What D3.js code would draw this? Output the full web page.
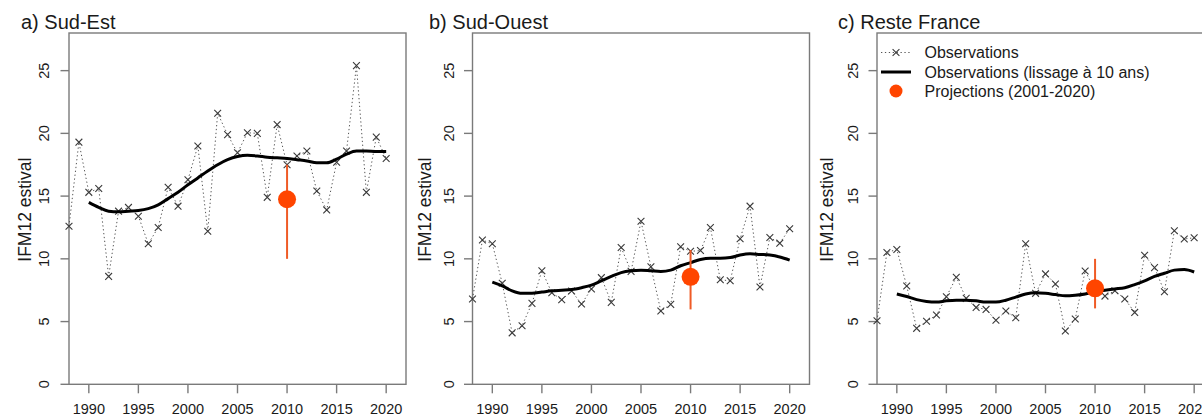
<!DOCTYPE html>
<html>
<head>
<meta charset="utf-8">
<script src="https://cdn.jsdelivr.net/npm/d3@7"></script>
<style>
  html, body { margin: 0; padding: 0; background: #fff; }
  svg { display: block; font-family: "Liberation Sans", Arial, sans-serif; }
</style>
</head>
<body>
<svg id="chart" width="1202" height="416"></svg>
<script>
// ---------- DATA ----------
const years = d3.range(1988, 2021);
const smoothYears = d3.range(1990, 2021);
const panelTitles = ["a) Sud-Est", "b) Sud-Ouest", "c) Reste France"];
const yTicks = [0, 5, 10, 15, 20, 25];
const xTicks = [1990, 1995, 2000, 2005, 2010, 2015, 2020];
const yLabel = "IFM12 estival";
const legendLabels = ["Observations", "Observations (lissage à 10 ans)", "Projections (2001-2020)"];

const obsSudEst = [12.6, 19.3, 15.3, 15.6, 8.6, 13.8, 14.1, 13.4, 11.2, 12.5, 15.7, 14.2, 16.3, 19.0, 12.2, 21.6, 19.9, 18.45, 20.05, 20.0, 14.9, 20.7, 17.5, 18.2, 18.6, 15.4, 13.9, 17.7, 18.6, 25.4, 15.3, 19.7, 18.0];
const smoothSudEst = [14.5, 14.1, 13.8, 13.75, 13.8, 13.85, 14.0, 14.3, 14.8, 15.3, 15.9, 16.45, 17.0, 17.5, 17.9, 18.15, 18.25, 18.2, 18.1, 18.05, 18.0, 17.9, 17.8, 17.65, 17.65, 17.95, 18.35, 18.6, 18.6, 18.55, 18.55];
const projSudEst = { year: 2010, mean: 14.75, low: 10.0, high: 17.5 };

const obsSudOuest = [6.8, 11.5, 11.2, 8.05, 4.1, 4.67, 6.45, 9.05, 7.3, 6.74, 7.43, 6.4, 7.6, 8.5, 6.53, 10.9, 9.0, 13.0, 9.37, 5.84, 6.37, 10.96, 10.6, 10.66, 12.5, 8.33, 8.25, 11.6, 14.2, 7.75, 11.7, 11.25, 12.4];
const smoothSudOuest = [8.15, 7.85, 7.45, 7.25, 7.25, 7.35, 7.45, 7.5, 7.55, 7.7, 7.9, 8.25, 8.6, 8.9, 9.05, 9.1, 9.05, 9.0, 9.1, 9.45, 9.7, 9.95, 10.05, 10.05, 10.1, 10.3, 10.4, 10.35, 10.3, 10.15, 9.9];
const projSudOuest = { year: 2010, mean: 8.57, low: 5.97, high: 10.7 };

const obsReste = [5.07, 10.5, 10.75, 7.83, 4.46, 5.02, 5.52, 6.98, 8.53, 6.85, 6.13, 5.97, 5.1, 5.84, 5.3, 11.2, 7.25, 8.8, 8.0, 4.25, 5.2, 9.03, 7.5, 7.03, 7.46, 6.8, 5.73, 10.28, 9.3, 7.38, 12.24, 11.58, 11.68];
const smoothReste = [7.2, 7.0, 6.75, 6.6, 6.55, 6.65, 6.7, 6.7, 6.65, 6.55, 6.55, 6.7, 6.95, 7.2, 7.3, 7.25, 7.15, 7.05, 7.1, 7.2, 7.4, 7.5, 7.6, 7.7, 7.95, 8.25, 8.6, 8.85, 9.1, 9.15, 8.95];
const projReste = { year: 2010, mean: 7.65, low: 6.05, high: 10.0 };

const panels = [
  { title: panelTitles[0], obs: obsSudEst, smooth: smoothSudEst, proj: projSudEst },
  { title: panelTitles[1], obs: obsSudOuest, smooth: smoothSudOuest, proj: projSudOuest },
  { title: panelTitles[2], obs: obsReste, smooth: smoothReste, proj: projReste, legend: true }
];

// ---------- LAYOUT ----------
const frameLefts = [69, 472.5, 877];
const frameW = 337;
const frameTop = 33, frameBottom = 384.3;
const textColor = "#1a1a1a";
const frameColor = "#7a7a7a";
const orange = "#ff4500";
const barColor = "#ef5b26";

const svg = d3.select("#chart");

function xMark(g, x, y, s) {
  g.append("path")
    .attr("d", `M${x - s},${y - s}L${x + s},${y + s}M${x - s},${y + s}L${x + s},${y - s}`)
    .attr("stroke", "#3a3a3a").attr("stroke-width", 1.1).attr("fill", "none");
}

panels.forEach((p, i) => {
  const L = frameLefts[i];
  const x = d3.scaleLinear().domain([1988, 2022]).range([L, L + frameW]);
  const y = d3.scaleLinear().domain([0, 28]).range([frameBottom, frameTop]);
  const g = svg.append("g");

  // title
  g.append("text")
    .attr("x", L - [48, 43.5, 39][i]).attr("y", 29)
    .attr("font-size", 20).attr("fill", textColor)
    .text(p.title);

  // y axis label
  const ylx = L - [44, 47.5, 50][i];
  g.append("text")
    .attr("transform", `translate(${ylx + 6.3},${(frameTop + frameBottom) / 2 + 1}) rotate(-90)`)
    .attr("text-anchor", "middle").attr("font-size", 17.5).attr("fill", textColor)
    .text(yLabel);

  // frame
  g.append("rect")
    .attr("x", L).attr("y", frameTop)
    .attr("width", frameW).attr("height", frameBottom - frameTop)
    .attr("fill", "none").attr("stroke", frameColor).attr("stroke-width", 1.4);

  // y axis ticks & labels
  const tlx = L - [25, 23.5, 24][i];
  yTicks.forEach(t => {
    g.append("line")
      .attr("x1", L - 8.5).attr("x2", L)
      .attr("y1", y(t)).attr("y2", y(t))
      .attr("stroke", frameColor).attr("stroke-width", 1.4);
    g.append("text")
      .attr("transform", `translate(${tlx + 5.2},${y(t)}) rotate(-90)`)
      .attr("text-anchor", "middle").attr("font-size", 14.5).attr("fill", textColor)
      .text(t);
  });

  // x axis ticks & labels
  xTicks.forEach(t => {
    g.append("line")
      .attr("x1", x(t)).attr("x2", x(t))
      .attr("y1", frameBottom).attr("y2", frameBottom + 9)
      .attr("stroke", frameColor).attr("stroke-width", 1.4);
    g.append("text")
      .attr("x", x(t)).attr("y", 414)
      .attr("text-anchor", "middle").attr("font-size", 14.5).attr("fill", textColor)
      .text(t);
  });

  // observations dotted line
  const line = d3.line().x(d => x(d[0])).y(d => y(d[1]));
  g.append("path")
    .datum(years.map((yr, k) => [yr, p.obs[k]]))
    .attr("d", line)
    .attr("fill", "none").attr("stroke", "#555").attr("stroke-width", 1)
    .attr("stroke-dasharray", "1.3,2.6");

  // x markers
  years.forEach((yr, k) => xMark(g, x(yr), y(p.obs[k]), 3.4));

  // smooth line
  g.append("path")
    .datum(smoothYears.map((yr, k) => [yr, p.smooth[k]]))
    .attr("d", d3.line().curve(d3.curveMonotoneX).x(d => x(d[0])).y(d => y(d[1])))
    .attr("fill", "none").attr("stroke", "#000").attr("stroke-width", 3)
    .attr("stroke-linejoin", "round").attr("stroke-linecap", "butt");

  // projection
  g.append("line")
    .attr("x1", x(p.proj.year)).attr("x2", x(p.proj.year))
    .attr("y1", y(p.proj.low)).attr("y2", y(p.proj.high))
    .attr("stroke", barColor).attr("stroke-width", 2);
  g.append("circle")
    .attr("cx", x(p.proj.year)).attr("cy", y(p.proj.mean)).attr("r", 9)
    .attr("fill", orange);

  // legend
  if (p.legend) {
    const lx1 = L + 4, lx2 = L + 34, mx = L + 19, tx = L + 47.5;
    const rows = [52.5, 72, 91];
    g.append("line").attr("x1", lx1).attr("x2", lx2).attr("y1", rows[0]).attr("y2", rows[0])
      .attr("stroke", "#555").attr("stroke-width", 1).attr("stroke-dasharray", "1.3,2.6");
    xMark(g, mx, rows[0], 3.4);
    g.append("line").attr("x1", lx1).attr("x2", lx2).attr("y1", rows[1]).attr("y2", rows[1])
      .attr("stroke", "#000").attr("stroke-width", 3);
    g.append("circle").attr("cx", mx).attr("cy", rows[2]).attr("r", 6.5).attr("fill", orange);
    legendLabels.forEach((lab, k) => {
      g.append("text")
        .attr("x", tx).attr("y", rows[k] + 5.8)
        .attr("font-size", 16).attr("fill", textColor)
        .text(lab);
    });
  }
});
</script>
</body>
</html>
